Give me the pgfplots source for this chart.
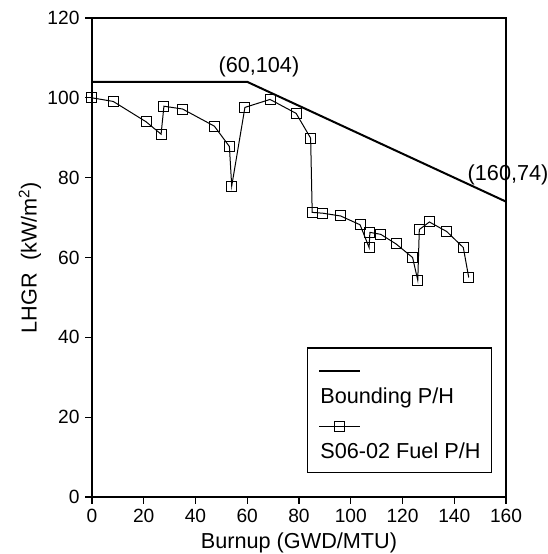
\documentclass[border=0pt]{standalone}
\usepackage{fontspec}
\setmainfont{Liberation Sans}
\usepackage{pgfplots}
\pgfplotsset{compat=1.18}
\usepackage{pgfplotstable}

% S06-02 fuel power history
\pgfplotstableread{
x     y
0     100
8.2   99.1
20.9  94.0
26.7  90.9
27.8  97.9
35.0  97.2
47.3  92.9
53.1  87.8
54.0  77.9
59.1  97.6
68.8  99.6
78.9  96.1
84.5  89.9
85.1  71.3
89.2  71.1
96.1  70.4
103.6 68.2
107.1 62.5
107.4 66.3
111.6 65.8
117.5 63.4
123.9 60.0
125.9 54.3
126.5 67.0
130.4 68.9
137.1 66.5
143.5 62.5
145.6 55.0
}\fueldata

\pgfplotstableread{
x   y
0   104
60  104
160 74
}\bounddata

\begin{document}
\begin{tikzpicture}
  % frame of the reference image (1px = 0.6pt)
  \path[use as bounding box] (-55.2pt,-34.2pt) rectangle (273.6pt,298.2pt);
  \begin{axis}[
    at={(0,0)}, anchor=origin,
    scale only axis,
    width=248.4pt, height=287.4pt,
    font=\fontsize{13}{15.6}\selectfont,
    clip mode=individual,
    xmin=0, xmax=160, ymin=0, ymax=120,
    xtick={0,20,...,160}, ytick={0,20,...,120},
    tick pos=left, tick align=outside,
    major tick length=4pt,
    tick style={black, line width=0.7pt},
    tick label style={font=\fontsize{11.5}{13}\selectfont},
    axis line style={line width=0.9pt},
    /pgf/number format/assume math mode=true,
    xlabel={Burnup (GWD/MTU)},
    ylabel={LHGR\ \ (kW/m\textsuperscript{2})},
    xlabel style={yshift=1pt},
    ylabel style={yshift=-3pt},
    legend style={
      at={(0.966,0.05)}, anchor=south east,
      draw=black, line width=0.7pt,
      inner xsep=6.5pt, inner ysep=6.6pt,
      row sep=5pt, column sep=0pt,
      nodes={inner sep=0pt},
      cells={anchor=base west},
      font=\fontsize{13}{15.6}\selectfont,
    },
    legend image code/.code={
      \draw[overlay, mark repeat=2, mark phase=2, #1]
        plot coordinates {(0pt,19.5pt) (12.3pt,19.5pt) (24.6pt,19.5pt)};
      \path (0pt,0pt) (0pt,26.3pt);
    },
  ]
    \addplot[black, line width=1.2pt] table {\bounddata};
    \addlegendentry{Bounding P/H}
    \addplot[black, line width=0.6pt, mark=square, mark size=3pt,
             mark options={line width=0.6pt}] table {\fueldata};
    \addlegendentry{S06-02 Fuel P/H}

    \node[anchor=base] at (axis cs:64.5,106.3) {(60,104)};
    \node[anchor=base] at (axis cs:160.8,79.4) {(160,74)};
  \end{axis}
\end{tikzpicture}
\end{document}
